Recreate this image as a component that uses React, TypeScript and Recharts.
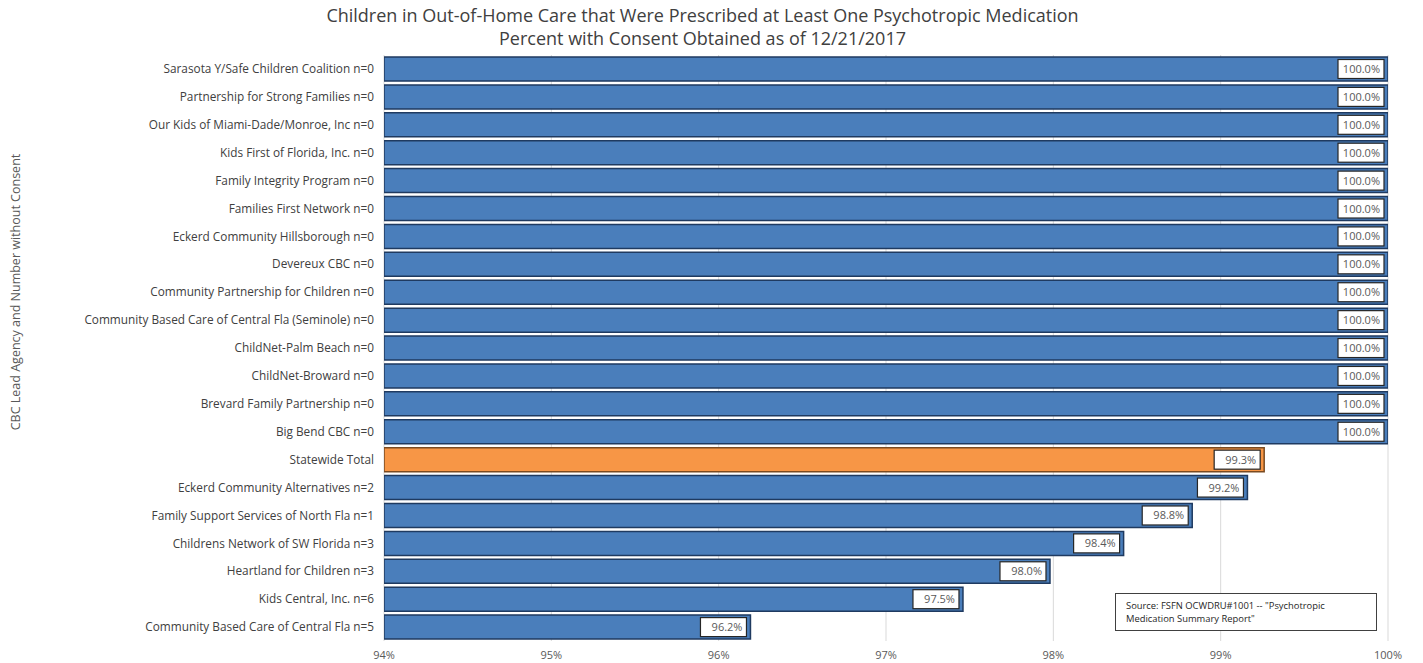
import React from 'react';
import { BarChart, Bar, XAxis, YAxis, CartesianGrid, Cell, LabelList } from 'recharts';

const agencies = [
  'Sarasota Y/Safe Children Coalition n=0',
  'Partnership for Strong Families n=0',
  'Our Kids of Miami-Dade/Monroe, Inc n=0',
  'Kids First of Florida, Inc. n=0',
  'Family Integrity Program n=0',
  'Families First Network n=0',
  'Eckerd Community Hillsborough n=0',
  'Devereux CBC n=0',
  'Community Partnership for Children n=0',
  'Community Based Care of Central Fla (Seminole) n=0',
  'ChildNet-Palm Beach n=0',
  'ChildNet-Broward n=0',
  'Brevard Family Partnership n=0',
  'Big Bend CBC n=0',
  'Statewide Total',
  'Eckerd Community Alternatives n=2',
  'Family Support Services of North Fla n=1',
  'Childrens Network of SW Florida n=3',
  'Heartland for Children n=3',
  'Kids Central, Inc. n=6',
  'Community Based Care of Central Fla n=5',
];

// Bar lengths (unrounded), with the printed labels
const percents = [100, 100, 100, 100, 100, 100, 100, 100, 100, 100, 100, 100, 100, 100, 99.26, 99.16, 98.83, 98.42, 97.98, 97.46, 96.19];
const percentLabels = ['100.0%', '100.0%', '100.0%', '100.0%', '100.0%', '100.0%', '100.0%', '100.0%', '100.0%', '100.0%', '100.0%', '100.0%', '100.0%', '100.0%', '99.3%', '99.2%', '98.8%', '98.4%', '98.0%', '97.5%', '96.2%'];

const xTicks = [94, 95, 96, 97, 98, 99, 100];

const titleLines = [
  'Children in Out-of-Home Care that Were Prescribed at Least One Psychotropic Medication',
  'Percent with Consent Obtained as of 12/21/2017',
];

const yAxisTitle = 'CBC Lead Agency and Number without Consent';
const sourceLines = ['Source: FSFN OCWDRU#1001 -- "Psychotropic', 'Medication Summary Report"'];

const data = agencies.map((name, i) => ({ name, value: percents[i], label: percentLabels[i] }));

const BLUE = '#4a7ebb';
const ORANGE = '#f79646';
const FONT = '"Open Sans", sans-serif';

const ValueLabel = (props: any) => {
  const { x, y, width, height, value } = props;
  const w = 46;
  const h = 19;
  const right = x + width - 4;
  const top = y + (height - h) / 2;
  return (
    <g>
      <rect x={right - w} y={top} width={w} height={h} fill="#ffffff" stroke="#262626" strokeWidth={1.2} />
      <text x={right - 4} y={top + h / 2 + 4} textAnchor="end" fontSize={11} fontFamily={FONT} fill="#595959">
        {value}
      </text>
    </g>
  );
};

export default function App() {
  return (
    <div style={{ position: 'absolute', left: 0, top: 0, width: 1423, height: 663, background: '#ffffff' }}>
      <div style={{ position: 'absolute', left: 0, top: 4, width: 1423, textAlign: 'center', fontFamily: FONT, fontSize: 18, color: '#404040', lineHeight: '23px' }}>
        <div style={{ marginLeft: -18 }}>{titleLines[0]}</div>
        <div style={{ marginLeft: -18 }}>{titleLines[1]}</div>
      </div>
      <BarChart
        width={1423}
        height={663}
        data={data}
        layout="vertical"
        margin={{ top: 55, right: 35, bottom: 0, left: 0 }}
        barSize={24}
      >
        <CartesianGrid horizontal={false} vertical={true} stroke="#d9d9d9" />
        <XAxis
          type="number"
          domain={[94, 100]}
          ticks={xTicks}
          tickFormatter={(v: number) => `${v}%`}
          axisLine={false}
          tickLine={false}
          tickSize={0}
          tickMargin={10}
          height={22}
          tick={{ fontSize: 11, fontFamily: FONT, fill: '#595959' }}
          allowDataOverflow
        />
        <YAxis
          type="category"
          dataKey="name"
          width={384}
          axisLine={false}
          tickLine={false}
          tickSize={0}
          tickMargin={10}
          interval={0}
          tick={{ fontSize: 11.8, fontFamily: FONT, fill: '#404040' }}
        />
        <Bar dataKey="value" isAnimationActive={false} stroke="#1f3a60" strokeWidth={1.5}>
          {data.map((d, i) => (
            <Cell key={i} fill={d.name === 'Statewide Total' ? ORANGE : BLUE} stroke={d.name === 'Statewide Total' ? '#7a4a20' : '#1f3a60'} />
          ))}
          <LabelList dataKey="label" content={ValueLabel} />
        </Bar>
      </BarChart>
      <div
        style={{
          position: 'absolute',
          left: 15,
          top: 292,
          transform: 'translate(-50%, -50%) rotate(-90deg)',
          transformOrigin: 'center',
          whiteSpace: 'nowrap',
          fontFamily: FONT,
          fontSize: 12.5,
          color: '#595959',
        }}
      >
        {yAxisTitle}
      </div>
      <div
        style={{
          position: 'absolute',
          left: 1115,
          top: 593,
          width: 262,
          height: 38,
          border: '1px solid #404040',
          background: '#ffffff',
          fontFamily: FONT,
          fontSize: 9.4,
          color: '#262626',
          lineHeight: '13px',
          padding: '5px 0 0 10px',
          boxSizing: 'border-box',
        }}
      >
        <div>{sourceLines[0]}</div>
        <div>{sourceLines[1]}</div>
      </div>
    </div>
  );
}
